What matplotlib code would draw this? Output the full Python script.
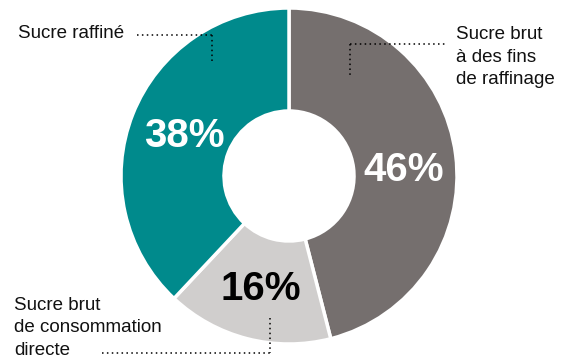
import matplotlib
matplotlib.use("Agg")
import matplotlib.pyplot as plt

W, H = 565, 361

categories = ["Sucre brut\nà des fins\nde raffinage",
              "Sucre brut\nde consommation\ndirecte",
              "Sucre raffiné"]
values = [46, 16, 38]
colors = ["#756f6e", "#d0cecd", "#008a8c"]
pct_colors = ["white", "black", "white"]

plt.rcParams['font.family'] = ['Liberation Sans', 'DejaVu Sans']

fig = plt.figure(figsize=(W / 100, H / 100), dpi=100)
ax = fig.add_axes([0, 0, 1, 1])

def Y(y):
    return H - y

cx, cy, R, r_in = 289, 176, 168, 65

wedges, texts, autotexts = ax.pie(
    values, colors=colors, startangle=90, counterclock=False,
    radius=R, center=(cx, Y(cy)),
    wedgeprops=dict(width=R - r_in, edgecolor="white", linewidth=2.5),
    autopct=lambda p: f"{p:.0f}%", pctdistance=115 / R,
    textprops=dict(fontsize=29, fontweight="bold"))
for t, c in zip(autotexts, pct_colors):
    t.set_color(c)
autotexts[0].set_position((404, Y(170)))
autotexts[1].set_position((261, Y(289)))
autotexts[2].set_position((184, Y(136)))

ax.set_xlim(0, W)
ax.set_ylim(0, H)
ax.set_aspect("equal")
ax.axis("off")

# labels
ax.text(18, Y(34), categories[2], fontsize=13.5, ha="left", va="center", color="#111111")
ax.text(456, Y(57), categories[0], fontsize=13.5, ha="left", va="center",
        color="#111111", linespacing=1.42)
ax.text(14, Y(328), categories[1], fontsize=13.5, ha="left", va="center",
        color="#111111", linespacing=1.42)

# leader lines
ls = dict(color="black", linestyle=(0, (1, 2.2)), linewidth=1.1)
ax.plot([137, 212], [Y(35), Y(35)], **ls)
ax.plot([212, 212], [Y(35), Y(62)], **ls)
ax.plot([350, 445], [Y(44), Y(44)], **ls)
ax.plot([350, 350], [Y(44), Y(78)], **ls)
ax.plot([102, 270], [Y(353), Y(353)], **ls)
ax.plot([270, 270], [Y(318), Y(353)], **ls)

fig.savefig("out.png", dpi=100)
